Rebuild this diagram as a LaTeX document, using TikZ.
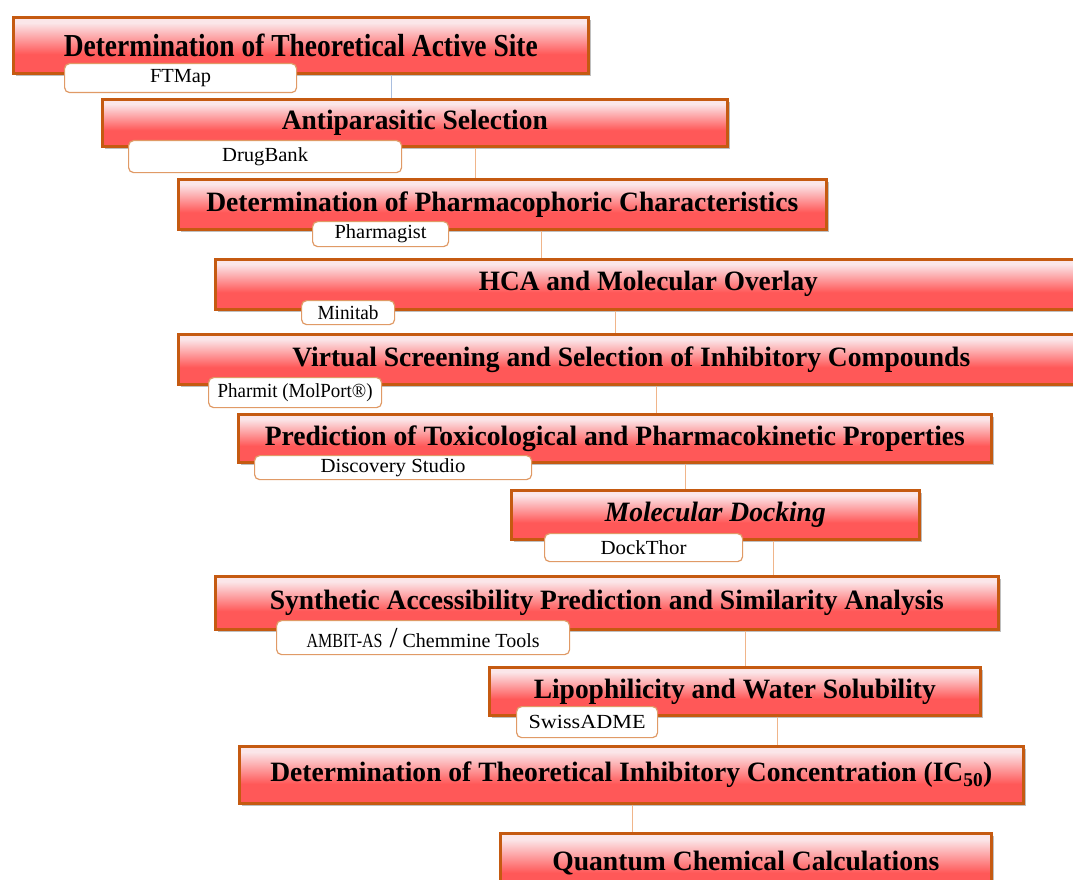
\documentclass[tikz,border=0pt]{standalone}
\usepackage{fontspec}
\setmainfont{Liberation Serif}
\usepackage{graphicx}
\usetikzlibrary{shadows}
\definecolor{boxborder}{HTML}{C55A11}
\definecolor{boxtop}{HTML}{FBE6E9}
\definecolor{boxbot}{HTML}{FF5858}
\definecolor{lblborder}{HTML}{E09A66}
\definecolor{connline}{HTML}{F0B58A}
\definecolor{connblue}{HTML}{A9BEDF}
\pgfdeclareverticalshading{boxshade}{100bp}{color(0bp)=(boxbot); color(42bp)=(boxbot); color(70bp)=(boxtop); color(100bp)=(boxtop)}
\newcommand\fitw[2]{\resizebox{#1pt}{\height}{#2}}
\tikzset{
  stage/.style={draw=boxborder, line width=2.6pt, shading=boxshade,
    drop shadow={shadow xshift=3pt, shadow yshift=-3pt, opacity=.45, fill=black!55},
    inner sep=0pt, anchor=north west,
    font=\fontsize{28}{32}\selectfont\bfseries},
  lbl/.style={draw=lblborder, line width=1.2pt, fill=white, rounded corners=5pt,
    anchor=north west, inner sep=0pt, font=\fontsize{20}{22}\selectfont},
  conn/.style={draw=connline, line width=0.9pt},
}
\begin{document}
\begin{tikzpicture}[x=1pt,y=-1pt]
\useasboundingbox (0,0) rectangle (1073,880);
\fill[white] (0,0) rectangle (1073,880);
\clip (0,0) rectangle (1073,880);

% stages
\node[stage, minimum width=575pt, minimum height=56pt, font=\fontsize{32}{36}\selectfont\bfseries] (b1) at (12,16) {\fitw{474}{Determination of Theoretical Active Site}};
\node[stage, minimum width=625pt, minimum height=47pt] (b2) at (101,98) {\fitw{266}{Antiparasitic Selection}};
\node[stage, minimum width=648pt, minimum height=50pt] (b3) at (177,178) {\fitw{592}{Determination of Pharmacophoric Characteristics}};
\node[stage, minimum width=866pt, minimum height=50pt] (b4) at (214,258) {\fitw{339}{HCA and Molecular Overlay}};
\node[stage, minimum width=906pt, minimum height=50pt] (b5) at (177,333) {\fitw{678}{Virtual Screening and Selection of Inhibitory Compounds}};
\node[stage, minimum width=753pt, minimum height=48pt] (b6) at (237,413) {\fitw{700}{Prediction of Toxicological and Pharmacokinetic Properties}};
\node[stage, minimum width=408pt, minimum height=49pt, font=\fontsize{28}{32}\selectfont\bfseries\itshape] (b7) at (510,489) {\fitw{221}{Molecular Docking}};
\node[stage, minimum width=783pt, minimum height=53pt] (b8) at (214,575) {\fitw{674}{Synthetic Accessibility Prediction and Similarity Analysis}};
\node[stage, minimum width=491pt, minimum height=48pt] (b9) at (488,666) {\fitw{402}{Lipophilicity and Water Solubility}};
\node[stage, minimum width=784pt, minimum height=57pt] (b10) at (238,745) {\fitw{722}{Determination of Theoretical Inhibitory Concentration (IC\textsubscript{50})}};
\node[stage, minimum width=491pt, minimum height=60pt] (b11) at (499,832) {\fitw{387}{Quantum Chemical Calculations}};

% connectors
\coordinate (k1) at (391,0);
\coordinate (k2) at (475,0);
\coordinate (k3) at (541,0);
\coordinate (k4) at (615,0);
\coordinate (k5) at (656,0);
\coordinate (k6) at (685,0);
\coordinate (k7) at (773,0);
\coordinate (k8) at (745,0);
\coordinate (k9) at (777,0);
\coordinate (k10) at (632,0);
\draw[conn, draw=connblue] (b1.south -| k1) -- (b2.north -| k1);
\draw[conn] (b2.south -| k2) -- (b3.north -| k2);
\draw[conn] (b3.south -| k3) -- (b4.north -| k3);
\draw[conn] (b4.south -| k4) -- (b5.north -| k4);
\draw[conn] (b5.south -| k5) -- (b6.north -| k5);
\draw[conn] (b6.south -| k6) -- (b7.north -| k6);
\draw[conn] (b7.south -| k7) -- (b8.north -| k7);
\draw[conn] (b8.south -| k8) -- (b9.north -| k8);
\draw[conn] (b9.south -| k9) -- (b10.north -| k9);
\draw[conn] (b10.south -| k10) -- (b11.north -| k10);

% tool labels
\node[lbl, minimum width=232pt, minimum height=29pt] (l1) at (64,63) {\fitw{61}{FTMap}};
\node[lbl, minimum width=273pt, minimum height=32pt] (l2) at (128,140) {\fitw{86}{DrugBank}};
\node[lbl, minimum width=136pt, minimum height=25pt] (l3) at (312,221) {\fitw{92}{Pharmagist}};
\node[lbl, minimum width=93pt, minimum height=24pt] (l4) at (301,300) {\fitw{61}{Minitab}};
\node[lbl, minimum width=173pt, minimum height=30pt] (l5) at (208,377) {\fitw{155}{Pharmit (MolPort®)}};
\node[lbl, minimum width=277pt, minimum height=24pt] (l6) at (254,455) {\fitw{145}{Discovery Studio}};
\node[lbl, minimum width=198pt, minimum height=28pt] (l7) at (544,533) {\fitw{86}{DockThor}};
\node[lbl, minimum width=293pt, minimum height=34pt] (l8) at (276,620) {\fitw{76}{AMBIT-AS}\hspace{7pt}{\fontsize{29}{29}\selectfont /}\hspace{5pt}\fitw{137}{Chemmine Tools}};
\node[lbl, minimum width=141pt, minimum height=31pt] (l9) at (516,706) {\fitw{117}{SwissADME}};
\end{tikzpicture}
\end{document}
